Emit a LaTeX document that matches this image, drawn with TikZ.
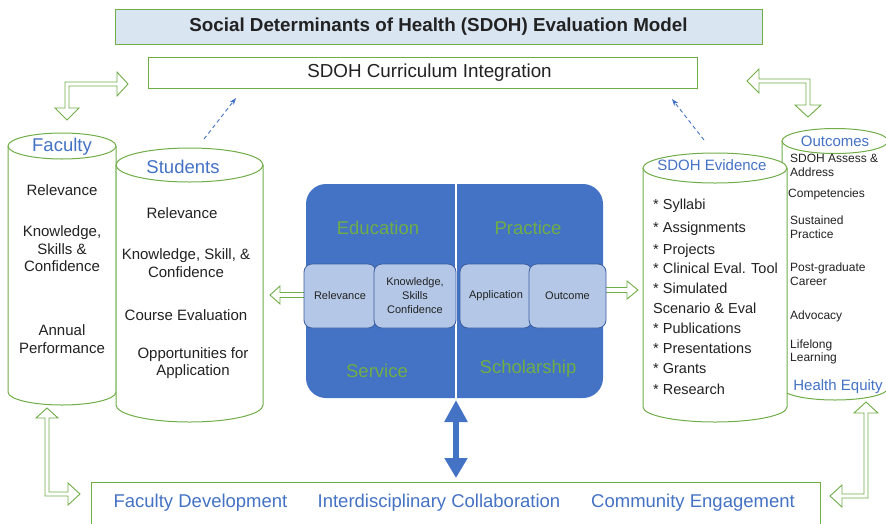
\documentclass[tikz,border=0pt]{standalone}
\usepackage{fontspec}
\setmainfont{Liberation Sans}
\usetikzlibrary{arrows.meta,calc}
\definecolor{lgreen}{HTML}{70AD47}
\definecolor{mblue}{HTML}{4472C4}
\definecolor{pblue}{HTML}{B4C7E7}
\definecolor{dblue}{HTML}{3B5E9E}
\definecolor{tfill}{HTML}{DAE5F2}
\definecolor{ink}{HTML}{222222}
\tikzset{
  framebox/.style={draw=lgreen, line width=1pt, fill=white, inner sep=0,
    font=\fontsize{18.5}{20}\selectfont, text=ink},
  titlebox/.style={framebox, fill=tfill, font=\bfseries\fontsize{18.8}{20}\selectfont},
  cylside/.style={draw=lgreen, line width=1pt},
  hollow/.style={draw=lgreen, line width=0.9pt, fill=white, line join=miter},
  head/.style={text=mblue, inner sep=0, font=\fontsize{18.5}{20}\selectfont},
  subhead/.style={text=mblue, inner sep=0, font=\fontsize{15}{17}\selectfont},
  body/.style={text=ink, inner sep=0, align=center, font=\fontsize{15}{17.6}\selectfont},
  item/.style={text=ink, inner sep=0, anchor=west, text height=10.4pt, text depth=0pt,
    font=\fontsize{14.5}{17}\selectfont},
  small/.style={text=ink, inner sep=0, anchor=west, align=left,
    font=\fontsize{12}{13.6}\selectfont},
  corebox/.style={fill=mblue, rounded corners=20pt, inner sep=0},
  realm/.style={text=lgreen, inner sep=0, font=\fontsize{18.5}{20}\selectfont},
  minibox/.style={fill=pblue, draw=dblue, line width=0.8pt, rounded corners=8pt,
    minimum height=64pt, inner sep=0, align=center, text=ink,
    font=\fontsize{11}{14}\selectfont},
  dasharrow/.style={draw=mblue, line width=0.9pt, dash pattern=on 4pt off 3pt,
    -{Stealth[length=7pt,width=5pt]}},
  bigarrow/.style={draw=mblue, line width=6pt,
    {Triangle[length=22pt,width=22pt]}-{Triangle[length=20pt,width=22pt]}},
  basetext/.style={text=mblue, inner sep=0, font=\fontsize{18.5}{20}\selectfont}
}
\begin{document}
\begin{tikzpicture}[x=1pt,y=-1pt]
\useasboundingbox (0,0) rectangle (886,523);

% headings
\node[titlebox, minimum width=647pt, minimum height=34.5pt] (title) at (438.5,26.75)
  {Social Determinants of Health (SDOH) Evaluation Model};
\node[framebox, minimum width=549pt, minimum height=31pt] (curr) at (422.5,72.5) {};
\node[text=ink, inner sep=0, font=\fontsize{18.8}{20}\selectfont] (currtext) at (429.5,72.5)
  {SDOH Curriculum Integration};

% elbow arrows at the upper corners
\draw[hollow] (128,84) -- (117,72) -- (117,82) -- (65,82) -- (65,108) -- (55,108)
  -- (67,120) -- (79,108) -- (69,108) -- (69,86) -- (117,86) -- (117,96) -- cycle;
\draw[hollow] (747,81) -- (759,69) -- (759,79) -- (810,79) -- (810,105) -- (821,105)
  -- (808,117) -- (795,105) -- (806,105) -- (806,83) -- (759,83) -- (759,93) -- cycle;

% Faculty cylinder
\fill[white] (8,146) -- (8,392) arc[start angle=180,end angle=0,x radius=54,y radius=13] -- (116,146) -- cycle;
\draw[cylside] (8,146) -- (8,392) arc[start angle=180,end angle=0,x radius=54,y radius=13] -- (116,146);
\draw[cylside, fill=white] (62,146) ellipse[x radius=54, y radius=13];

% Students cylinder
\fill[white] (116,165) -- (116,405) arc[start angle=180,end angle=0,x radius=73.5,y radius=17] -- (263,165) -- cycle;
\draw[cylside] (116,165) -- (116,405) arc[start angle=180,end angle=0,x radius=73.5,y radius=17] -- (263,165);
\draw[cylside, fill=white] (189.5,165) ellipse[x radius=73.5, y radius=17];

% Outcomes cylinder (behind the evidence cylinder)
\fill[white] (782,141) -- (782,388) arc[start angle=180,end angle=0,x radius=53,y radius=12] -- (888,141) -- cycle;
\draw[cylside] (782,141) -- (782,388) arc[start angle=180,end angle=0,x radius=53,y radius=12] -- (888,141);
\draw[cylside, fill=white] (835,141) ellipse[x radius=53, y radius=12.5];

% SDOH Evidence cylinder
\fill[white] (643,168) -- (643,407) arc[start angle=180,end angle=0,x radius=72,y radius=15] -- (787,168) -- cycle;
\draw[cylside] (643,168) -- (643,407) arc[start angle=180,end angle=0,x radius=72,y radius=15] -- (787,168);
\draw[cylside, fill=white] (715,168) ellipse[x radius=72, y radius=15];

% Faculty texts
\node[head] (fac) at (62,147) {Faculty};
\node[body] (fac1) at (62,190) {Relevance};
\node[body] (fac2) at (62,249) {Knowledge,\\Skills \&\\Confidence};
\node[body] (fac3) at (62,339) {Annual\\Performance};

% Students texts
\node[head] (stu) at (183,167) {Students};
\node[body] (stu1) at (182,213) {Relevance};
\node[body] (stu2) at (186,263) {Knowledge, Skill, \&\\Confidence};
\node[body] (stu3) at (186,315) {Course Evaluation};
\node[body] (stu4) at (193,363) {Opportunities for\\Application};

% Evidence texts
\node[subhead] (ev) at (712,165) {SDOH Evidence};
\foreach \t/\y [count=\i] in {* Syllabi/204, * Assignments/227, * Projects/249,
    * Clinical Eval. Tool/268, * Simulated/288, Scenario \& Eval/308,
    * Publications/328, * Presentations/348, * Grants/368, * Research/389}
  \node[item] (ev\i) at (653,\y) {\t};

% Outcomes texts
\node[subhead] (out) at (835,141) {Outcomes};
\node[small] (out1) at (790,165.5) {SDOH Assess \&\\Address};
\node[small] (out2) at (788,194) {Competencies};
\node[small] (out3) at (790,227) {Sustained\\Practice};
\node[small] (out4) at (790,274) {Post-graduate\\Career};
\node[small] (out5) at (790,316) {Advocacy};
\node[small] (out6) at (790,352) {Lifelong\\Learning};
\node[subhead] (eq) at (838,387) {Health Equity};

% central block
\node[corebox, minimum width=297pt, minimum height=214pt] (core) at (454.5,291) {};
\draw[white, line width=1.2pt] ($(core.north)+(1.5,0)$) -- ($(core.south)+(1.5,0)$);
\node[realm] (edu) at (378,228) {Education};
\node[realm] (pra) at (528,228) {Practice};
\node[realm] (ser) at (377,371) {Service};
\node[realm] (sch) at (528,369) {Scholarship};

% side arrows out of the central block
\draw[hollow] (270,295) -- (280,286) -- (280,292.5) -- (306,292.5) -- (306,297.5)
  -- (280,297.5) -- (280,304) -- cycle;
\draw[hollow] (604,287.5) -- (627,287.5) -- (627,281) -- (638,290) -- (627,299)
  -- (627,292.5) -- (604,292.5);

\node[minibox, minimum width=72pt] (b1) at (340,296) {Relevance};
\node[minibox, minimum width=82pt] (b2) at (415,296) {Knowledge,\\Skills\\Confidence};
\node[minibox, minimum width=72pt] (b3) at (496,296) {Application};
\node[minibox, minimum width=77pt] (b4) at (567.5,296) {Outcome};

% dashed links up to the curriculum box
\coordinate (stu-top) at (204,139);
\coordinate (curr-l) at (236,98);
\coordinate (ev-top) at (704,140);
\coordinate (curr-r) at (672,99);
\draw[dasharrow] (stu-top) -- (curr-l);
\draw[dasharrow] (ev-top) -- (curr-r);

% bottom band
\node[framebox, minimum width=729pt, minimum height=50pt] (base) at (455.5,507) {};
\node[basetext] (bt1) at (200.5,503) {Faculty Development};
\node[basetext] (bt2) at (439,503) {Interdisciplinary Collaboration};
\node[basetext] (bt3) at (693,503) {Community Engagement};

% link between the central block and the bottom band
\coordinate (core-foot) at (456,400);
\coordinate (base-top) at (456,478);
\draw[bigarrow] (core-foot) -- (base-top);

% elbow arrows at the lower corners
\draw[hollow] (47,408) -- (58,418) -- (49,418) -- (49,492) -- (68,492) -- (68,483)
  -- (80,494) -- (68,505) -- (68,496) -- (45,496) -- (45,418) -- (36,418) -- cycle;
\draw[hollow] (866,402) -- (878,413) -- (868,413) -- (868,498) -- (842,498) -- (842,507)
  -- (830,496) -- (842,485) -- (842,494) -- (864,494) -- (864,413) -- (854,413) -- cycle;
\end{tikzpicture}
\end{document}
